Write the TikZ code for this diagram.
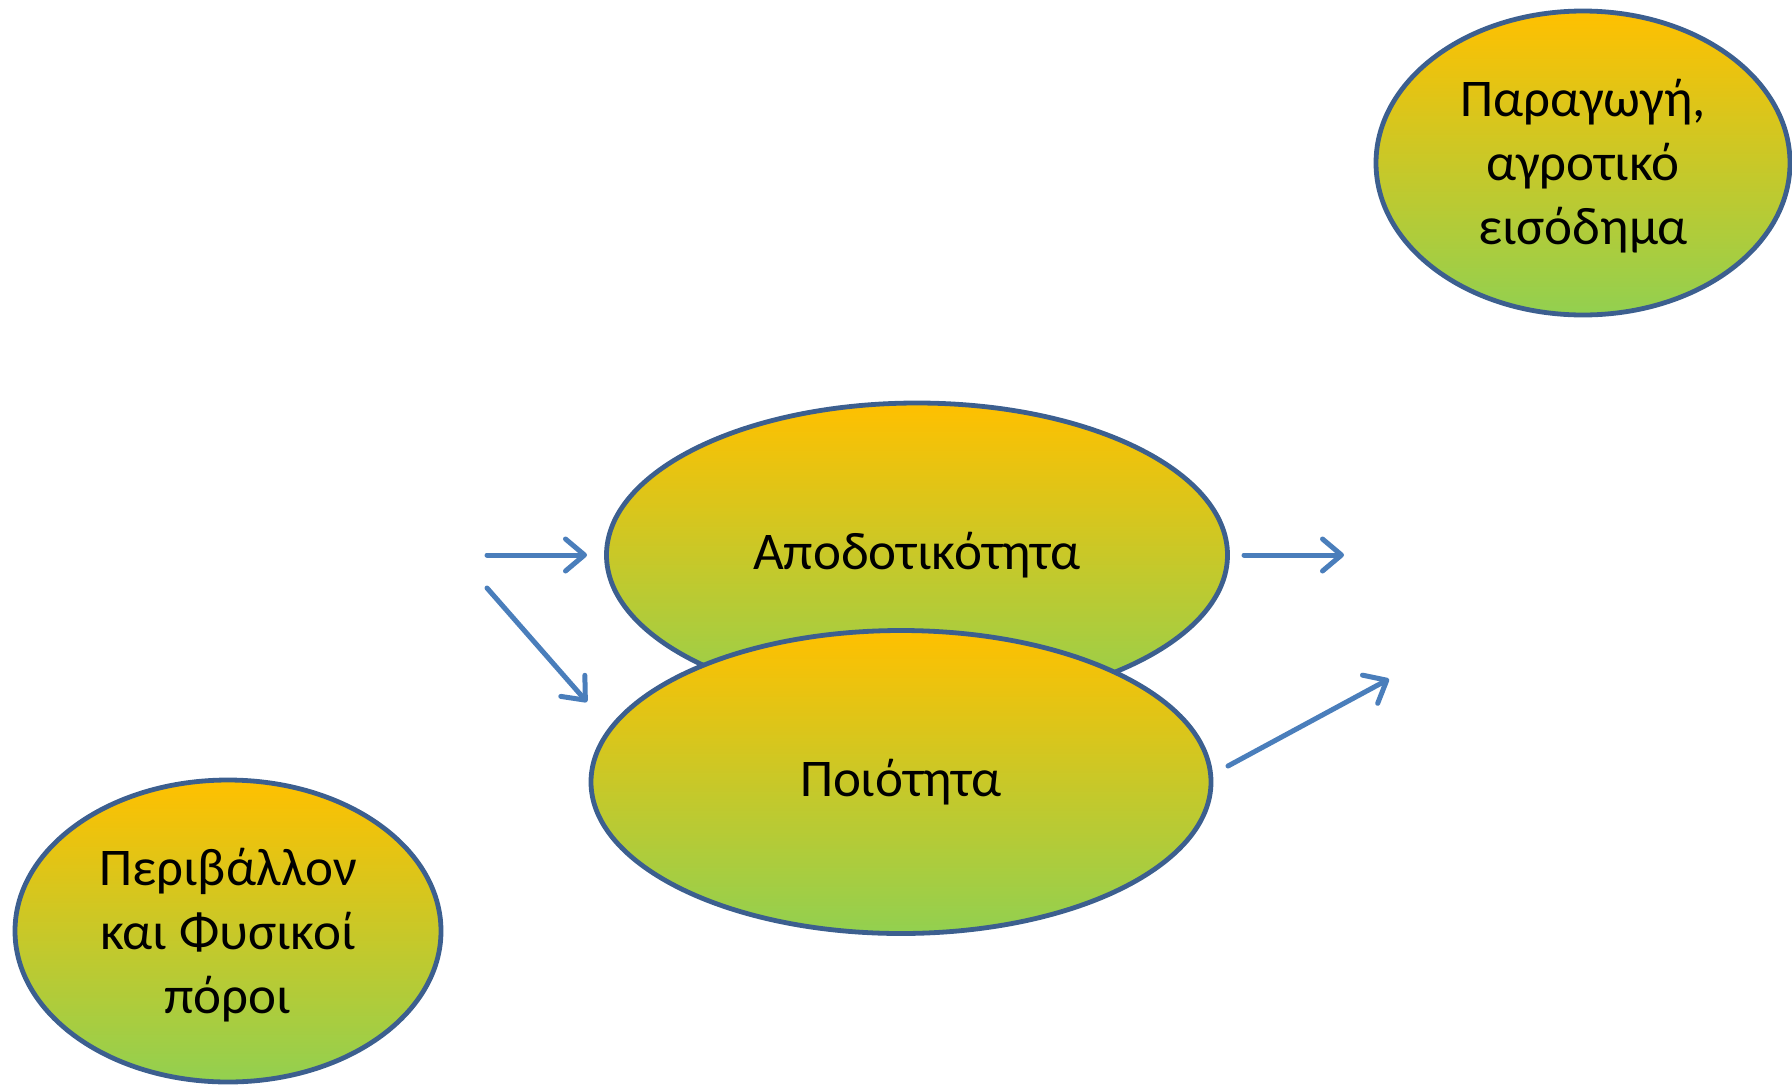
\documentclass[tikz,border=0pt]{standalone}
\usepackage{fontspec}
\setmainfont{Carlito}
\usetikzlibrary{shapes.geometric,arrows.meta}
\definecolor{outl}{HTML}{3C5F8F}
\definecolor{arr}{HTML}{4A7EBB}
\definecolor{topc}{HTML}{FFC000}
\definecolor{botc}{HTML}{92D050}
\tikzset{
  oval/.style={ellipse, draw=outl, line width=4.8pt, top color=topc, bottom color=botc,
    inner sep=0pt, align=center, font=\fontsize{53}{64}\selectfont, text=black},
  conn/.style={draw=arr, line width=5pt, line cap=round,
    -{Straight Barb[length=19pt,width=32pt,line width=5pt,round]}}
}
\begin{document}
\begin{tikzpicture}[x=1pt,y=-1pt]
\useasboundingbox (0,0) rectangle (1792,1085);
\node[oval, minimum width=414pt, minimum height=304pt] (prod) at (1583,163) {\raisebox{-5pt}[\height][\depth]{\begin{tabular}{@{}c@{}}Παραγωγή,\\αγροτικό\\εισόδημα\end{tabular}}};
\node[oval, minimum width=621pt, minimum height=304pt] (apod) at (917,555) {Αποδοτικότητα};
\node[oval, minimum width=620pt, minimum height=303pt] (poio) at (901,782) {Ποιότητα};
\node[oval, minimum width=426pt, minimum height=302pt] (peri) at (228,931) {\raisebox{-6pt}[\height][\depth]{\begin{tabular}{@{}c@{}}Περιβάλλον\\και Φυσικοί\\πόροι\end{tabular}}};
\coordinate (a1s) at (487,555);
\coordinate (a1e) at (587,555);
\coordinate (a2s) at (487,588);
\coordinate (a2e) at (587,702);
\coordinate (a3s) at (1244,555);
\coordinate (a3e) at (1344,555);
\coordinate (a4s) at (1228,766);
\coordinate (a4e) at (1389,679);
\draw[conn] (a1s) -- (a1e);
\draw[conn] (a2s) -- (a2e);
\draw[conn] (a3s) -- (a3e);
\draw[conn] (a4s) -- (a4e);
\end{tikzpicture}
\end{document}
